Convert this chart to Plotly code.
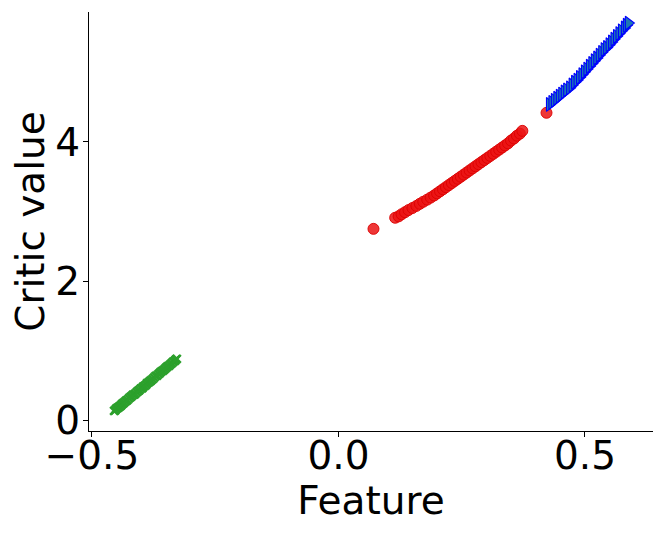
import plotly.graph_objects as go

# green cluster (x markers)
green_x = [-0.455, -0.453, -0.451, -0.449, -0.447, -0.445, -0.443, -0.441, -0.439, -0.437,
           -0.435, -0.432, -0.430, -0.428, -0.425, -0.422, -0.420, -0.417, -0.414, -0.412,
           -0.409, -0.406, -0.404, -0.401, -0.398, -0.396, -0.393, -0.390, -0.388, -0.385,
           -0.382, -0.380, -0.377, -0.374, -0.371, -0.368, -0.365, -0.362, -0.359, -0.356,
           -0.353, -0.350, -0.347, -0.344, -0.341, -0.338, -0.335, -0.332, -0.330, -0.328]
green_y = [0.13, 0.14, 0.16, 0.17, 0.18, 0.19, 0.20, 0.21, 0.23, 0.24,
           0.25, 0.27, 0.28, 0.29, 0.31, 0.33, 0.34, 0.36, 0.37, 0.38,
           0.40, 0.42, 0.43, 0.45, 0.46, 0.48, 0.49, 0.51, 0.53, 0.54,
           0.56, 0.57, 0.59, 0.61, 0.63, 0.64, 0.66, 0.68, 0.70, 0.71,
           0.73, 0.75, 0.77, 0.78, 0.80, 0.82, 0.84, 0.85, 0.87, 0.88]

# red cluster (circles)
red_x = [0.071, 0.115, 0.122, 0.128, 0.135, 0.142, 0.150, 0.158, 0.165, 0.172, 0.180,
         0.187, 0.194, 0.200, 0.206, 0.212, 0.218, 0.224, 0.230, 0.236, 0.242, 0.248,
         0.254, 0.260, 0.266, 0.272, 0.278, 0.284, 0.290, 0.296, 0.302, 0.308, 0.314,
         0.320, 0.326, 0.332, 0.338, 0.344, 0.350, 0.356, 0.362, 0.368, 0.373, 0.422]
red_y = [2.75, 2.91, 2.93, 2.96, 2.99, 3.02, 3.05, 3.08, 3.11, 3.14, 3.17,
         3.20, 3.23, 3.26, 3.29, 3.32, 3.35, 3.38, 3.41, 3.44, 3.47, 3.50,
         3.53, 3.56, 3.59, 3.62, 3.65, 3.68, 3.71, 3.74, 3.77, 3.80, 3.83,
         3.86, 3.89, 3.92, 3.95, 3.98, 4.02, 4.05, 4.09, 4.12, 4.16, 4.42]

# blue cluster (triangles)
blue_x = [0.428, 0.433, 0.438, 0.443, 0.448, 0.453, 0.458, 0.463, 0.469, 0.474, 0.479,
          0.484, 0.489, 0.494, 0.499, 0.504, 0.509, 0.514, 0.519, 0.524, 0.529, 0.534,
          0.539, 0.544, 0.549, 0.554, 0.559, 0.564, 0.569, 0.574, 0.580, 0.584, 0.588]
blue_y = [4.54, 4.57, 4.60, 4.63, 4.66, 4.69, 4.72, 4.75, 4.78, 4.82, 4.86,
          4.89, 4.93, 4.97, 5.01, 5.05, 5.09, 5.13, 5.17, 5.21, 5.25, 5.29,
          5.33, 5.36, 5.40, 5.44, 5.48, 5.52, 5.56, 5.60, 5.64, 5.68, 5.71]

x_ticks = [-0.5, 0.0, 0.5]
y_ticks = [0, 2, 4]

FONT = "DejaVu Sans"
FS = 39

fig = go.Figure()
fig.add_trace(go.Scatter(x=green_x, y=green_y, mode="markers",
                         marker=dict(symbol="x-thin", size=8, color="#2ca02c",
                                     line=dict(color="#2ca02c", width=2.5))))
fig.add_trace(go.Scatter(x=red_x, y=red_y, mode="markers",
                         marker=dict(symbol="circle", size=11, color="rgba(235,20,20,0.85)",
                                     line=dict(color="rgba(220,0,0,0.9)", width=1))))
fig.add_trace(go.Scatter(x=blue_x, y=blue_y, mode="markers",
                         marker=dict(symbol="triangle-right", size=12, color="#1f77b4",
                                     line=dict(color="#0000ff", width=1.1))))

axis_common = dict(showgrid=False, zeroline=False, showline=True, linecolor="black",
                   linewidth=1, ticks="outside", ticklen=5, tickwidth=1, tickcolor="black",
                   automargin=False,
                   tickfont=dict(family=FONT, size=FS, color="black"))
fig.update_xaxes(range=[-0.506, 0.638], tickvals=x_ticks, tickformat=".1f",
                 ticklabelstandoff=-15,
                 title=dict(text="Feature", font=dict(family=FONT, size=FS, color="black"),
                            standoff=4), **axis_common)
fig.update_yaxes(range=[-0.158, 5.87], tickvals=y_ticks, ticklabelstandoff=-5,
                 title=dict(text="Critic value", font=dict(family=FONT, size=FS, color="black"),
                            standoff=6), **axis_common)
# the page body adds an 8px offset, so the figure is sized and placed to compensate
fig.update_layout(width=656, height=525, showlegend=False,
                  plot_bgcolor="white", paper_bgcolor="white",
                  margin=dict(l=81, r=11, t=4, b=102))
fig.write_html("out.html")
